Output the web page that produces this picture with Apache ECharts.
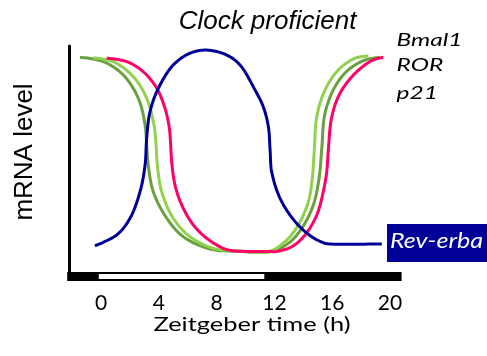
<!DOCTYPE html>
<html>
<head>
<meta charset="utf-8">
<script src="https://cdn.jsdelivr.net/npm/echarts@6/dist/echarts.min.js"></script>
<style>
  html, body { margin: 0; padding: 0; background: #fff; }
  #chart { width: 487px; height: 356px; }
</style>
</head>
<body>
<div id="chart"></div>
<script>
// Relative mRNA level over Zeitgeber time (h) for each clock gene
const bmal1Time  = [-0.53, 0.85, 2.24, 3.16, 3.67, 3.81, 3.9, 4.2, 5.0, 6.16, 7.77, 9.39, 11.58, 12.73, 13.65, 14.35, 14.62, 14.76, 14.93, 15.5, 16.42, 17.58, 18.5];
const bmal1Level = [0.948, 0.931, 0.864, 0.769, 0.65, 0.562, 0.473, 0.355, 0.238, 0.156, 0.105, 0.094, 0.09, 0.134, 0.208, 0.311, 0.415, 0.54, 0.687, 0.805, 0.894, 0.946, 0.956];

const rorTime  = [-1.45, 0.16, 1.54, 2.58, 3.05, 3.16, 3.27, 3.62, 4.55, 5.7, 7.54, 9.62, 11.7, 12.96, 13.89, 14.69, 15.09, 15.27, 15.5, 16.19, 17.11, 18.27, 19.31];
const rorLevel = [0.95, 0.931, 0.872, 0.769, 0.65, 0.562, 0.473, 0.355, 0.238, 0.156, 0.102, 0.091, 0.09, 0.127, 0.193, 0.296, 0.415, 0.54, 0.702, 0.82, 0.894, 0.938, 0.95];

const p21Time  = [0.39, 1.78, 2.93, 3.86, 4.43, 4.73, 4.82, 4.89, 5.12, 5.59, 6.39, 7.32, 8.46, 9.16, 11.7, 12.04, 13.2, 14.12, 14.93, 15.38, 15.62, 15.73, 15.97, 16.54, 17.58, 18.73, 19.54];
const p21Level = [0.946, 0.931, 0.886, 0.813, 0.724, 0.636, 0.562, 0.488, 0.385, 0.296, 0.208, 0.149, 0.105, 0.094, 0.091, 0.09, 0.112, 0.164, 0.252, 0.355, 0.444, 0.54, 0.687, 0.791, 0.879, 0.935, 0.95];

const revErbaTime  = [-0.42, 1.09, 2.01, 2.7, 3.05, 3.16, 3.39, 3.97, 5.0, 6.16, 7.32, 8.7, 9.62, 10.66, 11.23, 11.58, 11.7, 11.81, 12.39, 13.43, 14.58, 15.5, 15.85, 19.43];
const revErbaLevel = [0.116, 0.164, 0.238, 0.355, 0.473, 0.592, 0.709, 0.813, 0.916, 0.968, 0.982, 0.96, 0.916, 0.805, 0.731, 0.643, 0.54, 0.444, 0.326, 0.223, 0.156, 0.127, 0.124, 0.124];

// Axis ticks and the light phase shown in the day/night bar
const tickHours = [0, 4, 8, 12, 16, 20];
const lightPhase = [-0.15, 11.3];
const timeRange = [-2.2, 20.8];

const zip = (xs, ys) => xs.map((x, i) => [x, ys[i]]);

// Horizontal stretch so a text spans a given width
const measureCtx = document.createElement('canvas').getContext('2d');
function stretch(text, font, width) {
  measureCtx.font = font;
  return width / measureCtx.measureText(text).width;
}

const labelFont = 'italic 18px Lato';
const labelScale = stretch('Bmal1', labelFont, 66);
const revFont = 'italic 21px Lato';
const revScale = stretch('Rev-erba', revFont, 93);
const xTitleFont = '18.5px Lato';
const xTitleScale = stretch('Zeitgeber time (h)', xTitleFont, 197);

// Centripetal Catmull-Rom through pixel points, sampled as a polyline
function catmullRom(pts, steps) {
  const out = [pts[0]];
  const n = pts.length;
  const dist = (a, b) => Math.pow(Math.hypot(b[0] - a[0], b[1] - a[1]), 0.5);
  for (let i = 0; i < n - 1; i++) {
    const p0 = pts[Math.max(i - 1, 0)], p1 = pts[i], p2 = pts[i + 1], p3 = pts[Math.min(i + 2, n - 1)];
    const d1 = dist(p0, p1), d2 = dist(p1, p2), d3 = dist(p2, p3);
    let b1 = p1, b2 = p2;
    if (d1 > 1e-6) {
      b1 = [0, 1].map(k => (d1 * d1 * p2[k] - d2 * d2 * p0[k] + (2 * d1 * d1 + 3 * d1 * d2 + d2 * d2) * p1[k]) / (3 * d1 * (d1 + d2)));
    }
    if (d3 > 1e-6) {
      b2 = [0, 1].map(k => (d3 * d3 * p1[k] - d2 * d2 * p3[k] + (2 * d3 * d3 + 3 * d3 * d2 + d2 * d2) * p2[k]) / (3 * d3 * (d3 + d2)));
    }
    for (let s = 1; s <= steps; s++) {
      const t = s / steps, u = 1 - t;
      out.push([0, 1].map(k => u * u * u * p1[k] + 3 * u * u * t * b1[k] + 3 * u * t * t * b2[k] + t * t * t * p2[k]));
    }
  }
  return out;
}

function curve(name, xs, ys, color, z) {
  return {
    name, type: 'custom', z, silent: true, clip: false,
    data: zip(xs, ys),
    renderItem(params, api) {
      if (params.dataIndex !== 0) return null;
      const pts = xs.map((x, i) => api.coord([x, ys[i]]));
      return {
        type: 'polyline',
        shape: { points: catmullRom(pts, 14) },
        style: { stroke: color, lineWidth: 3, fill: null, lineJoin: 'round' }
      };
    }
  };
}

const chart = echarts.init(document.getElementById('chart'), null, { renderer: 'canvas' });
chart.setOption({
  animation: false,
  backgroundColor: '#fff',
  grid: { left: 69.2, right: 85.4, top: 46, bottom: 84, outerBoundsMode: 'none', containLabel: false },
  xAxis: {
    type: 'value', min: timeRange[0], max: timeRange[1],
    axisLine: { show: false }, axisTick: { show: false }, splitLine: { show: false },
    axisLabel: {
      customValues: tickHours, margin: 21,
      fontFamily: 'Lato', fontSize: 21, color: '#000'
    }
  },
  yAxis: {
    type: 'value', min: 0, max: 1,
    axisLine: { show: true, onZero: false, lineStyle: { color: '#000', width: 3 } },
    axisTick: { show: false }, axisLabel: { show: false }, splitLine: { show: false }
  },
  series: [
    // Day/night bar along the time axis
    {
      type: 'custom', silent: true, clip: false, z: 1,
      data: [lightPhase],
      renderItem(params, api) {
        const cs = params.coordSys;
        const y0 = cs.y + cs.height;
        const a = api.coord([api.value(0), 0])[0];
        const b = api.coord([api.value(1), 0])[0];
        return {
          type: 'group',
          children: [
            { type: 'rect', shape: { x: cs.x - 2, y: y0, width: cs.width + 2, height: 9 }, style: { fill: '#000' } },
            { type: 'rect', shape: { x: a, y: y0 + 2, width: b - a, height: 5 }, style: { fill: '#fff' } }
          ]
        };
      }
    },
    curve('ROR', rorTime, rorLevel, '#6aa13f', 2),
    curve('Bmal1', bmal1Time, bmal1Level, '#92d050', 3),
    curve('p21', p21Time, p21Level, '#ff0066', 4),
    curve('Rev-erba', revErbaTime, revErbaLevel, '#000099', 5)
  ],
  graphic: [
    { type: 'text', x: 267.5, y: 22, style: { text: 'Clock proficient', font: 'italic 26px "Liberation Sans"', fill: '#000', align: 'center', verticalAlign: 'middle' } },
    { type: 'text', x: 25, y: 152, rotation: Math.PI / 2, style: { text: 'mRNA level', font: '26px "Liberation Sans"', fill: '#000', align: 'center', verticalAlign: 'middle' } },
    { type: 'text', x: 396.5, y: 40.5, scaleX: labelScale, style: { text: 'Bmal1', font: labelFont, fill: '#000', align: 'left', verticalAlign: 'middle' } },
    { type: 'text', x: 396.5, y: 65.5, scaleX: labelScale, style: { text: 'ROR', font: labelFont, fill: '#000', align: 'left', verticalAlign: 'middle' } },
    { type: 'text', x: 396.5, y: 93.5, scaleX: labelScale, style: { text: 'p21', font: labelFont, fill: '#000', align: 'left', verticalAlign: 'middle' } },
    { type: 'rect', shape: { x: 387, y: 224, width: 100, height: 38 }, style: { fill: '#000099' } },
    { type: 'text', x: 390, y: 241.5, scaleX: revScale, style: { text: 'Rev-erba', font: revFont, fill: '#fff', align: 'left', verticalAlign: 'middle' } },
    { type: 'text', x: 252, y: 325, scaleX: xTitleScale, style: { text: 'Zeitgeber time (h)', font: xTitleFont, fill: '#000', align: 'center', verticalAlign: 'middle' } }
  ]
});
</script>
</body>
</html>
